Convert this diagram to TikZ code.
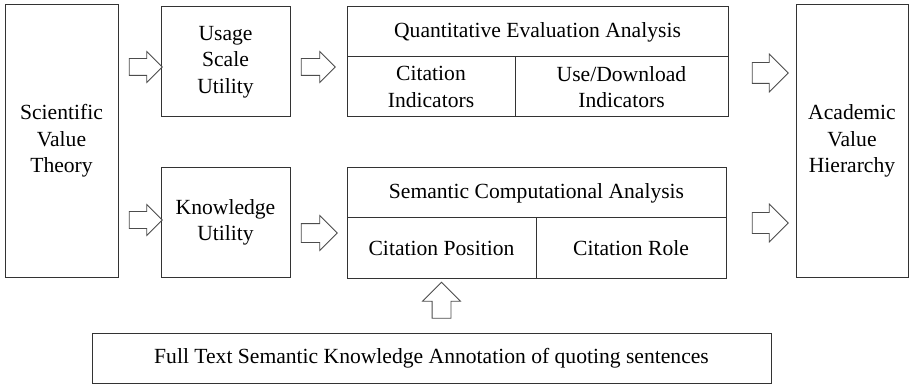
\documentclass[tikz,border=0pt]{standalone}
\usepackage{fontspec}
\setmainfont{Liberation Serif}
\usetikzlibrary{shapes.arrows}

\tikzset{
  box/.style={draw=black!80, line width=1pt, align=center, inner sep=2pt,
    font=\fontsize{21.6}{26.5}\selectfont},
  blockarrow/.style={single arrow, draw=black!70, line width=0.8pt, fill=white,
    inner xsep=0pt, single arrow tip angle=90}
}

\begin{document}
\begin{tikzpicture}[x=1pt,y=-1pt]
  \useasboundingbox (0,0) rectangle (911,385);

  % Left and right columns
  \node[box, minimum width=113pt, minimum height=272pt] (theory) at (61.5,141)
    {Scientific\\Value\\Theory};
  \node[box, minimum width=112pt, minimum height=272pt] (academic) at (852,141)
    {Academic\\Value\\Hierarchy};

  % Utilities
  \node[box, minimum width=129pt, minimum height=110pt] (usage) at (225.5,62)
    {Usage\\Scale\\Utility};
  \node[box, minimum width=129pt, minimum height=109pt] (knowledge) at (225.5,222.5)
    {Knowledge\\Utility};

  % Quantitative evaluation
  \node[box, minimum width=381pt, minimum height=50pt] (quant) at (537.5,32)
    {Quantitative Evaluation Analysis};
  \node[box, minimum width=168pt, minimum height=60pt] (citind) at (431,87)
    {Citation\\Indicators};
  \node[box, minimum width=213pt, minimum height=60pt] (useind) at (621.5,87)
    {Use/Download\\Indicators};

  % Semantic computation
  \node[box, minimum width=379pt, minimum height=50pt] (semantic) at (536.5,193)
    {Semantic Computational Analysis};
  \node[box, minimum width=189pt, minimum height=60pt] (citpos) at (441.5,248)
    {Citation Position};
  \node[box, minimum width=190pt, minimum height=60pt] (citrole) at (631,248)
    {Citation Role};

  % Annotation
  \node[box, minimum width=679pt, minimum height=50pt] (annot) at (431.5,358)
    {Full Text Semantic Knowledge Annotation of quoting sentences};

  % Block arrows
  \node[blockarrow, minimum height=33pt, inner ysep=8pt, single arrow head extend=7pt] (a1) at (141.5,67) {};
  \node[blockarrow, minimum height=33pt, inner ysep=8pt, single arrow head extend=7pt] (a2) at (141.5,220) {};
  \node[blockarrow, minimum height=34pt, inner ysep=8pt, single arrow head extend=7pt] (a3) at (314,67) {};
  \node[blockarrow, minimum height=36pt, inner ysep=9pt, single arrow head extend=8pt] (a4) at (314.5,233) {};
  \node[blockarrow, minimum height=36pt, inner ysep=10pt, single arrow head extend=8.5pt] (a5) at (765,73) {};
  \node[blockarrow, minimum height=36pt, inner ysep=10pt, single arrow head extend=8.5pt] (a6) at (765,223) {};
  \node[blockarrow, shape border rotate=90, minimum height=36pt, inner xsep=9pt,
    inner ysep=0pt, single arrow head extend=9.5pt] (a7) at (441.5,305) {};
\end{tikzpicture}
\end{document}
